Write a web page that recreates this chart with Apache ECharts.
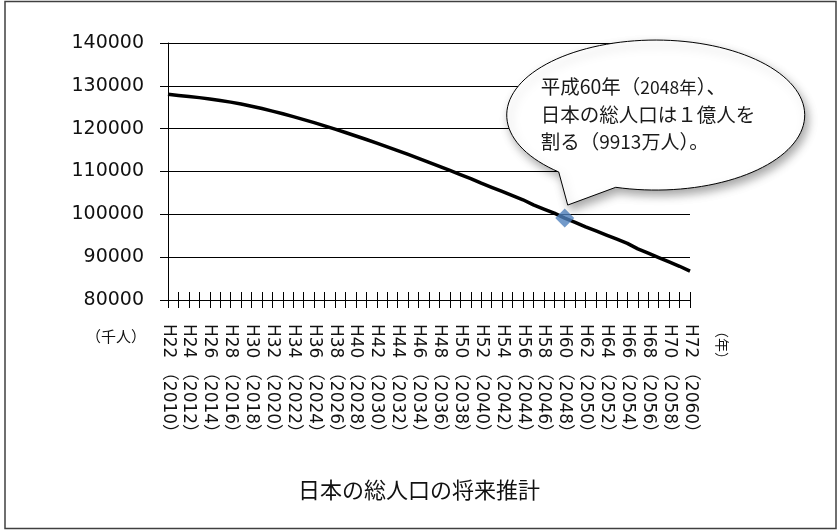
<!DOCTYPE html>
<html>
<head>
<meta charset="utf-8">
<script src="https://cdn.jsdelivr.net/npm/echarts@6/dist/echarts.min.js"></script>
<style>
  html, body { margin: 0; padding: 0; background: #fff; }
  #chart { width: 838px; height: 530px; }
</style>
</head>
<body>
<div id="chart"></div>
<script>
// 平成年表記のカテゴリ
const heisei = ['H22','H23','H24','H25','H26','H27','H28','H29','H30','H31',
  'H32','H33','H34','H35','H36','H37','H38','H39','H40','H41',
  'H42','H43','H44','H45','H46','H47','H48','H49','H50','H51',
  'H52','H53','H54','H55','H56','H57','H58','H59','H60','H61',
  'H62','H63','H64','H65','H66','H67','H68','H69','H70','H71','H72'];
// 西暦
const westernYears = ['2010','2011','2012','2013','2014','2015','2016','2017','2018','2019',
  '2020','2021','2022','2023','2024','2025','2026','2027','2028','2029',
  '2030','2031','2032','2033','2034','2035','2036','2037','2038','2039',
  '2040','2041','2042','2043','2044','2045','2046','2047','2048','2049',
  '2050','2051','2052','2053','2054','2055','2056','2057','2058','2059','2060'];
// 総人口（千人）
const population = [128057,127753,127498,127247,126949,126597,126193,125739,125236,124689,
  124100,123474,122813,122122,121403,120659,119891,119102,118293,117465,
  116618,115752,114870,113975,113069,112124,111189,110245,109295,108342,
  107276,106314,105346,104374,103398,102210,101231,100264,99131,98138,
  97076,96122,95159,94191,93217,91933,90922,89908,88893,87877,86737];
// 1億人を割る年
const highlightYear = '2048';
const yTicks = { min: 80000, max: 140000, step: 10000 };

const hi = westernYears.indexOf(highlightYear);

const JP = '"Noto Sans CJK JP", "Noto Sans", sans-serif';
const LATIN = '"DejaVu Sans", "Noto Sans CJK JP", sans-serif';
const chart = echarts.init(document.getElementById('chart'), null, { renderer: 'canvas' });

const tickStyle = { color: '#000', width: 1 };

chart.setOption({
  backgroundColor: '#fff',
  animation: false,
  title: {
    text: '日本の総人口の将来推計',
    left: 'center',
    top: 474,
    textStyle: { fontFamily: JP, fontSize: 22, fontWeight: 'normal', color: '#111' }
  },
  grid: { left: 168, right: 148, top: 43, bottom: 230, containLabel: false },
  xAxis: [
    {
      type: 'category',
      data: heisei,
      boundaryGap: false,
      position: 'bottom',
      axisLine: { show: true, lineStyle: tickStyle },
      axisTick: { show: true, interval: 0, length: 8, inside: false, lineStyle: tickStyle },
      axisLabel: {
        interval: 1,
        rotate: -90,
        margin: 24,
        fontFamily: LATIN,
        fontSize: 17,
        color: '#111',
        formatter: (v, i) => heisei[i] + ' （' + westernYears[i] + '）'
      },
      splitLine: { show: false }
    },
    {
      type: 'category',
      data: heisei,
      boundaryGap: false,
      position: 'bottom',
      axisLine: { show: false },
      axisTick: { show: true, interval: 0, length: 8, inside: true, lineStyle: tickStyle },
      axisLabel: { show: false },
      splitLine: { show: false }
    }
  ],
  yAxis: {
    type: 'value',
    min: yTicks.min,
    max: yTicks.max,
    interval: yTicks.step,
    axisLine: { show: true, lineStyle: tickStyle },
    axisTick: { show: true, length: 8, lineStyle: tickStyle },
    axisLabel: {
      margin: 24,
      fontFamily: '"DejaVu Sans", sans-serif',
      fontSize: 19,
      color: '#111',
      formatter: v => String(v)
    },
    splitLine: { show: true, lineStyle: { color: '#000', width: 1 } }
  },
  series: [
    {
      type: 'line',
      data: population,
      smooth: false,
      symbol: 'none',
      lineStyle: { color: '#000', width: 3.5, join: 'round' },
      z: 3
    },
    {
      type: 'scatter',
      data: [[hi, population[hi]]],
      symbol: 'diamond',
      symbolSize: 19,
      itemStyle: { color: '#4F81BD' },
      z: 5
    }
  ]
});

// 吹き出しを強調点の位置から描く（楕円＋しっぽの多角形）
const p = chart.convertToPixel({ seriesIndex: 1 }, [hi, population[hi]]);
const cx = p[0] + 91, cy = p[1] - 103, rx = 149, ry = 75;
const tip = [p[0] + 3, p[1] - 13];
const a1 = Math.acos(-97 / rx), a2 = Math.acos(-40 / rx) + Math.PI * 2;
const bubblePts = [];
const steps = 120;
for (let k = 0; k <= steps; k++) {
  const t = a1 + (a2 - a1) * k / steps;
  bubblePts.push([cx + rx * Math.cos(t), cy + ry * Math.sin(t)]);
}
bubblePts.push(tip);

const tx = p[0] - 24;
chart.setOption({
  graphic: [
    {
      type: 'rect',
      shape: { x: 5, y: 1.5, width: 831, height: 527 },
      style: { fill: 'none', stroke: '#404040', lineWidth: 1.5 },
      silent: true, z: 0
    },
    {
      type: 'polygon',
      shape: { points: bubblePts },
      style: {
        fill: '#fff', stroke: '#000', lineWidth: 1,
        shadowBlur: 10, shadowOffsetX: 3, shadowOffsetY: 5, shadowColor: 'rgba(0,0,0,0.35)'
      },
      z: 10
    },
    {
      type: 'text',
      x: tx, y: p[1] - 131,
      style: {
        text: '{a|平成60年（}{s|2048年}{a|）、}',
        verticalAlign: 'middle',
        rich: {
          a: { fontFamily: JP, fontSize: 19.5, fill: '#1a1a1a' },
          s: { fontFamily: JP, fontSize: 17.5, fill: '#1a1a1a' }
        }
      },
      z: 11
    },
    {
      type: 'text',
      x: tx, y: p[1] - 103,
      style: { text: '日本の総人口は１億人を', fontFamily: JP, fontSize: 19.5, fill: '#1a1a1a', verticalAlign: 'middle' },
      z: 11
    },
    {
      type: 'text',
      x: tx, y: p[1] - 76,
      style: {
        text: '{a|割る（}{s|9913万人}{a|）。}',
        verticalAlign: 'middle',
        rich: {
          a: { fontFamily: JP, fontSize: 19.5, fill: '#1a1a1a' },
          s: { fontFamily: JP, fontSize: 19, fill: '#1a1a1a' }
        }
      },
      z: 11
    },
    {
      type: 'text',
      x: 146, y: 336,
      style: { text: '（千人）', fontFamily: JP, fontSize: 15, fill: '#111', align: 'right', verticalAlign: 'middle' },
      z: 11
    },
    {
      type: 'text',
      x: 722, y: 324,
      rotation: -Math.PI / 2,
      style: { text: '（年）', fontFamily: JP, fontSize: 14, fill: '#111', align: 'left', verticalAlign: 'middle' },
      z: 11
    }
  ]
});
</script>
</body>
</html>
